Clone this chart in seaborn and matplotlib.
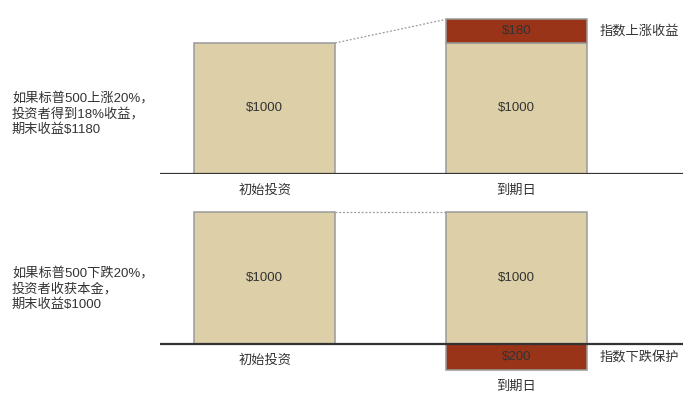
import matplotlib
matplotlib.use('Agg')

import pandas as pd
import matplotlib.pyplot as plt
import seaborn as sns

# data
stages = ['初始投资', '到期日']
principal = [1000, 1000]
gain_up = [0, 180]          # top scenario: index rises
protect_down = [0, -200]    # bottom scenario: index falls, downside protection
up_note = '如果标普500上涨20%，\n投资者得到18%收益，\n期末收益$1180'
down_note = '如果标普500下跌20%，\n投资者收获本金，\n期末收益$1000'
up_tag = '指数上涨收益'
down_tag = '指数下跌保护'

BEIGE = '#ddcfa7'
RED = '#993419'
EDGE = '#9a9a9a'
TXT = '#333333'

sns.set_theme(style='white')
plt.rcParams['font.family'] = ['Liberation Sans', 'Noto Sans CJK SC', 'DejaVu Sans']

W, H = 700, 416
fig = plt.figure(figsize=(7, 4.16), dpi=100)


def px_axes(x0, y0, x1, y1):
    # axes from pixel box (top-left origin)
    return fig.add_axes([x0 / W, 1 - y1 / H, (x1 - x0) / W, (y1 - y0) / H])


def draw_panel(ax, extra, tag, ylim):
    df = pd.DataFrame({'stage': stages, 'principal': principal, 'extra': extra})
    sns.barplot(data=df, x='stage', y='principal', color=BEIGE, width=0.56,
                edgecolor=EDGE, linewidth=1.1, saturation=1, ax=ax)
    bottoms = [p if e > 0 else 0 for p, e in zip(principal, extra)]
    ax.bar(range(len(stages)), extra, bottom=bottoms, width=0.56,
           color=RED, edgecolor=EDGE, linewidth=1.1)
    ax.set_xlim(-0.415, 1.661)
    ax.set_ylim(*ylim)
    ax.axhline(0, color='#333333', lw=1.6, zorder=5)
    ax.axis('off')

    for i, (p, e) in enumerate(zip(principal, extra)):
        ax.text(i, p / 2, f'${p}', ha='center', va='center', fontsize=9.5, color=TXT)
        low = min(0, e)
        ax.annotate(stages[i], xy=(i, low), xytext=(0, -12), textcoords='offset points',
                    ha='center', va='center', fontsize=9.5, color=TXT)
        if e != 0:
            mid = bottoms[i] + e / 2
            ax.text(i, mid, f'${abs(e)}', ha='center', va='center', fontsize=9.5, color=TXT)
            ax.annotate(tag, xy=(i + 0.28, mid), xytext=(9, 0), textcoords='offset points',
                        ha='left', va='center', fontsize=9.5, color=TXT)

    # dotted connector from first bar top-right to second bar top-left
    top1 = principal[0] + max(extra[0], 0)
    top2 = principal[1] + max(extra[1], 0)
    ax.plot([0.28, 0.72], [top1, top2], ls=(0, (1.5, 1.5)), color=EDGE, lw=0.9)


ax_top = px_axes(160, 0, 683, 174)
draw_panel(ax_top, gain_up, up_tag, (0, 1328))

ax_bot = px_axes(160, 205, 683, 400)
draw_panel(ax_bot, protect_down, down_tag, (-(400 - 344) / 132 * 1000, (344 - 205) / 132 * 1000))

fig.text(12 / W, 1 - 114 / H, up_note, ha='left', va='center', fontsize=9.5,
         color=TXT, linespacing=1.3)
fig.text(12 / W, 1 - 289 / H, down_note, ha='left', va='center', fontsize=9.5,
         color=TXT, linespacing=1.3)

fig.savefig('out.png', dpi=100)
plt.close(fig)
